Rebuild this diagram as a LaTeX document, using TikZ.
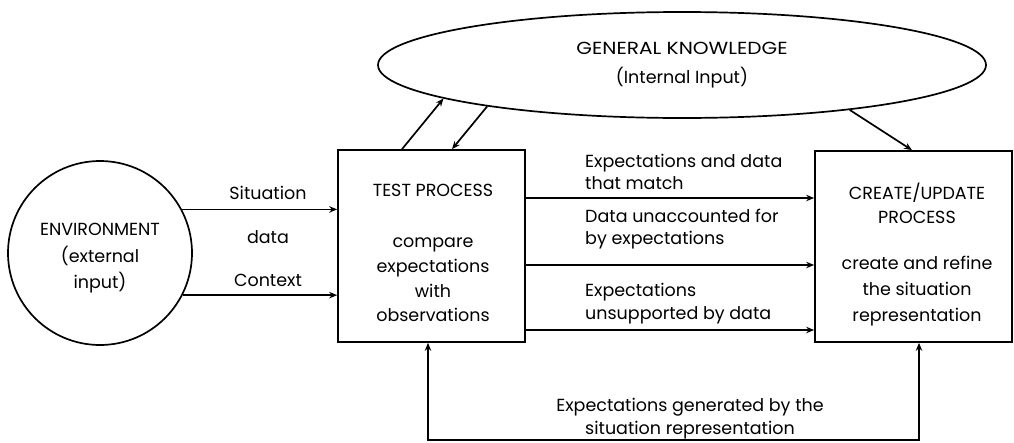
\documentclass[tikz,border=0pt]{standalone}
\usepackage{fontspec}
\setmainfont{Poppins}
\newfontfamily\gkfont[FakeStretch=1.15]{Poppins}
\usetikzlibrary{arrows.meta,shapes.geometric}
\begin{document}
\begin{tikzpicture}[x=1pt,y=-1pt,
  every node/.style={font=\fontsize{17.5}{24}\selectfont},
  arr/.style={line width=1.7pt, -{Stealth[length=8pt,width=6.5pt]}},
  procbox/.style={draw, line width=1.7pt, rectangle, inner sep=0pt, align=center},
  txt/.style={inner sep=0pt, align=center},
  lbl/.style={inner sep=0pt, align=left, anchor=west}]
\useasboundingbox (0,0) rectangle (1014,442);
% nodes
\node[draw, line width=1.7pt, circle, minimum size=184pt, inner sep=0pt] (env) at (100,253) {};
\node[txt, font=\fontsize{17.5}{26.5}\selectfont] (envT) at (100,258.5) {ENVIRONMENT\\(external\\input)};
\node[draw, line width=1.7pt, ellipse, minimum width=608pt, minimum height=106pt, inner sep=0pt] (gk) at (682,65) {};
\node[txt, font=\fontsize{17.5}{29}\selectfont] (gkT) at (682,65) {{\gkfont GENERAL KNOWLEDGE}\\(Internal Input)};
\node[procbox, minimum width=187pt, minimum height=192pt] (test) at (431.5,246) {};
\node[procbox, minimum width=197pt, minimum height=191pt] (create) at (913.5,246.5) {};
% texts in boxes
\node[txt] (testT) at (433,190) {TEST PROCESS};
\node[txt, font=\fontsize{17.5}{24.7}\selectfont] (testB) at (433,280) {compare\\expectations\\with\\observations};
\node[txt] (createT) at (917,203) {CREATE/UPDATE\\PROCESS};
\node[txt, font=\fontsize{17.5}{26}\selectfont] (createB) at (917,291) {create and refine\\the situation\\representation};
% connectors
\draw[arr] (env.28) -- (env.28 -| test.west);
\draw[arr] (env.-27) -- (env.-27 -| test.west);
\node[txt] (lsit) at (268,193) {Situation};
\node[txt] (ldata) at (268,237) {data};
\node[txt] (lctx) at (268,280) {Context};
\draw[arr] (test.east |- 0,198) -- (create.west |- 0,198);
\draw[arr] (test.east |- 0,265) -- (create.west |- 0,265);
\draw[arr] (test.east |- 0,330) -- (create.west |- 0,330);
\node[lbl, font=\fontsize{17.5}{21.5}\selectfont] (l1) at (585,172) {Expectations and data\\that match};
\node[lbl, font=\fontsize{17.5}{22}\selectfont] (l2) at (585,229) {Data unaccounted for\\by expectations};
\node[lbl, font=\fontsize{17.5}{23}\selectfont] (l3) at (585,303.5) {Expectations\\unsupported by data};
\draw[arr] (test.north -| 402,0) -- (gk.188.6);
\draw[arr] (gk.192) -- (test.north -| 452,0);
\draw[arr] (gk.345) -- (create.north -| 912,0);
\draw[{Stealth[length=8pt,width=6.5pt]}-{Stealth[length=8pt,width=6.5pt]}, line width=1.7pt] (test.south -| 428,0) |- (919,440) -- (create.south -| 919,0);
\node[txt, font=\fontsize{17.5}{23}\selectfont] (lexp) at (690,418.5) {Expectations generated by the\\situation representation};
\end{tikzpicture}
\end{document}
